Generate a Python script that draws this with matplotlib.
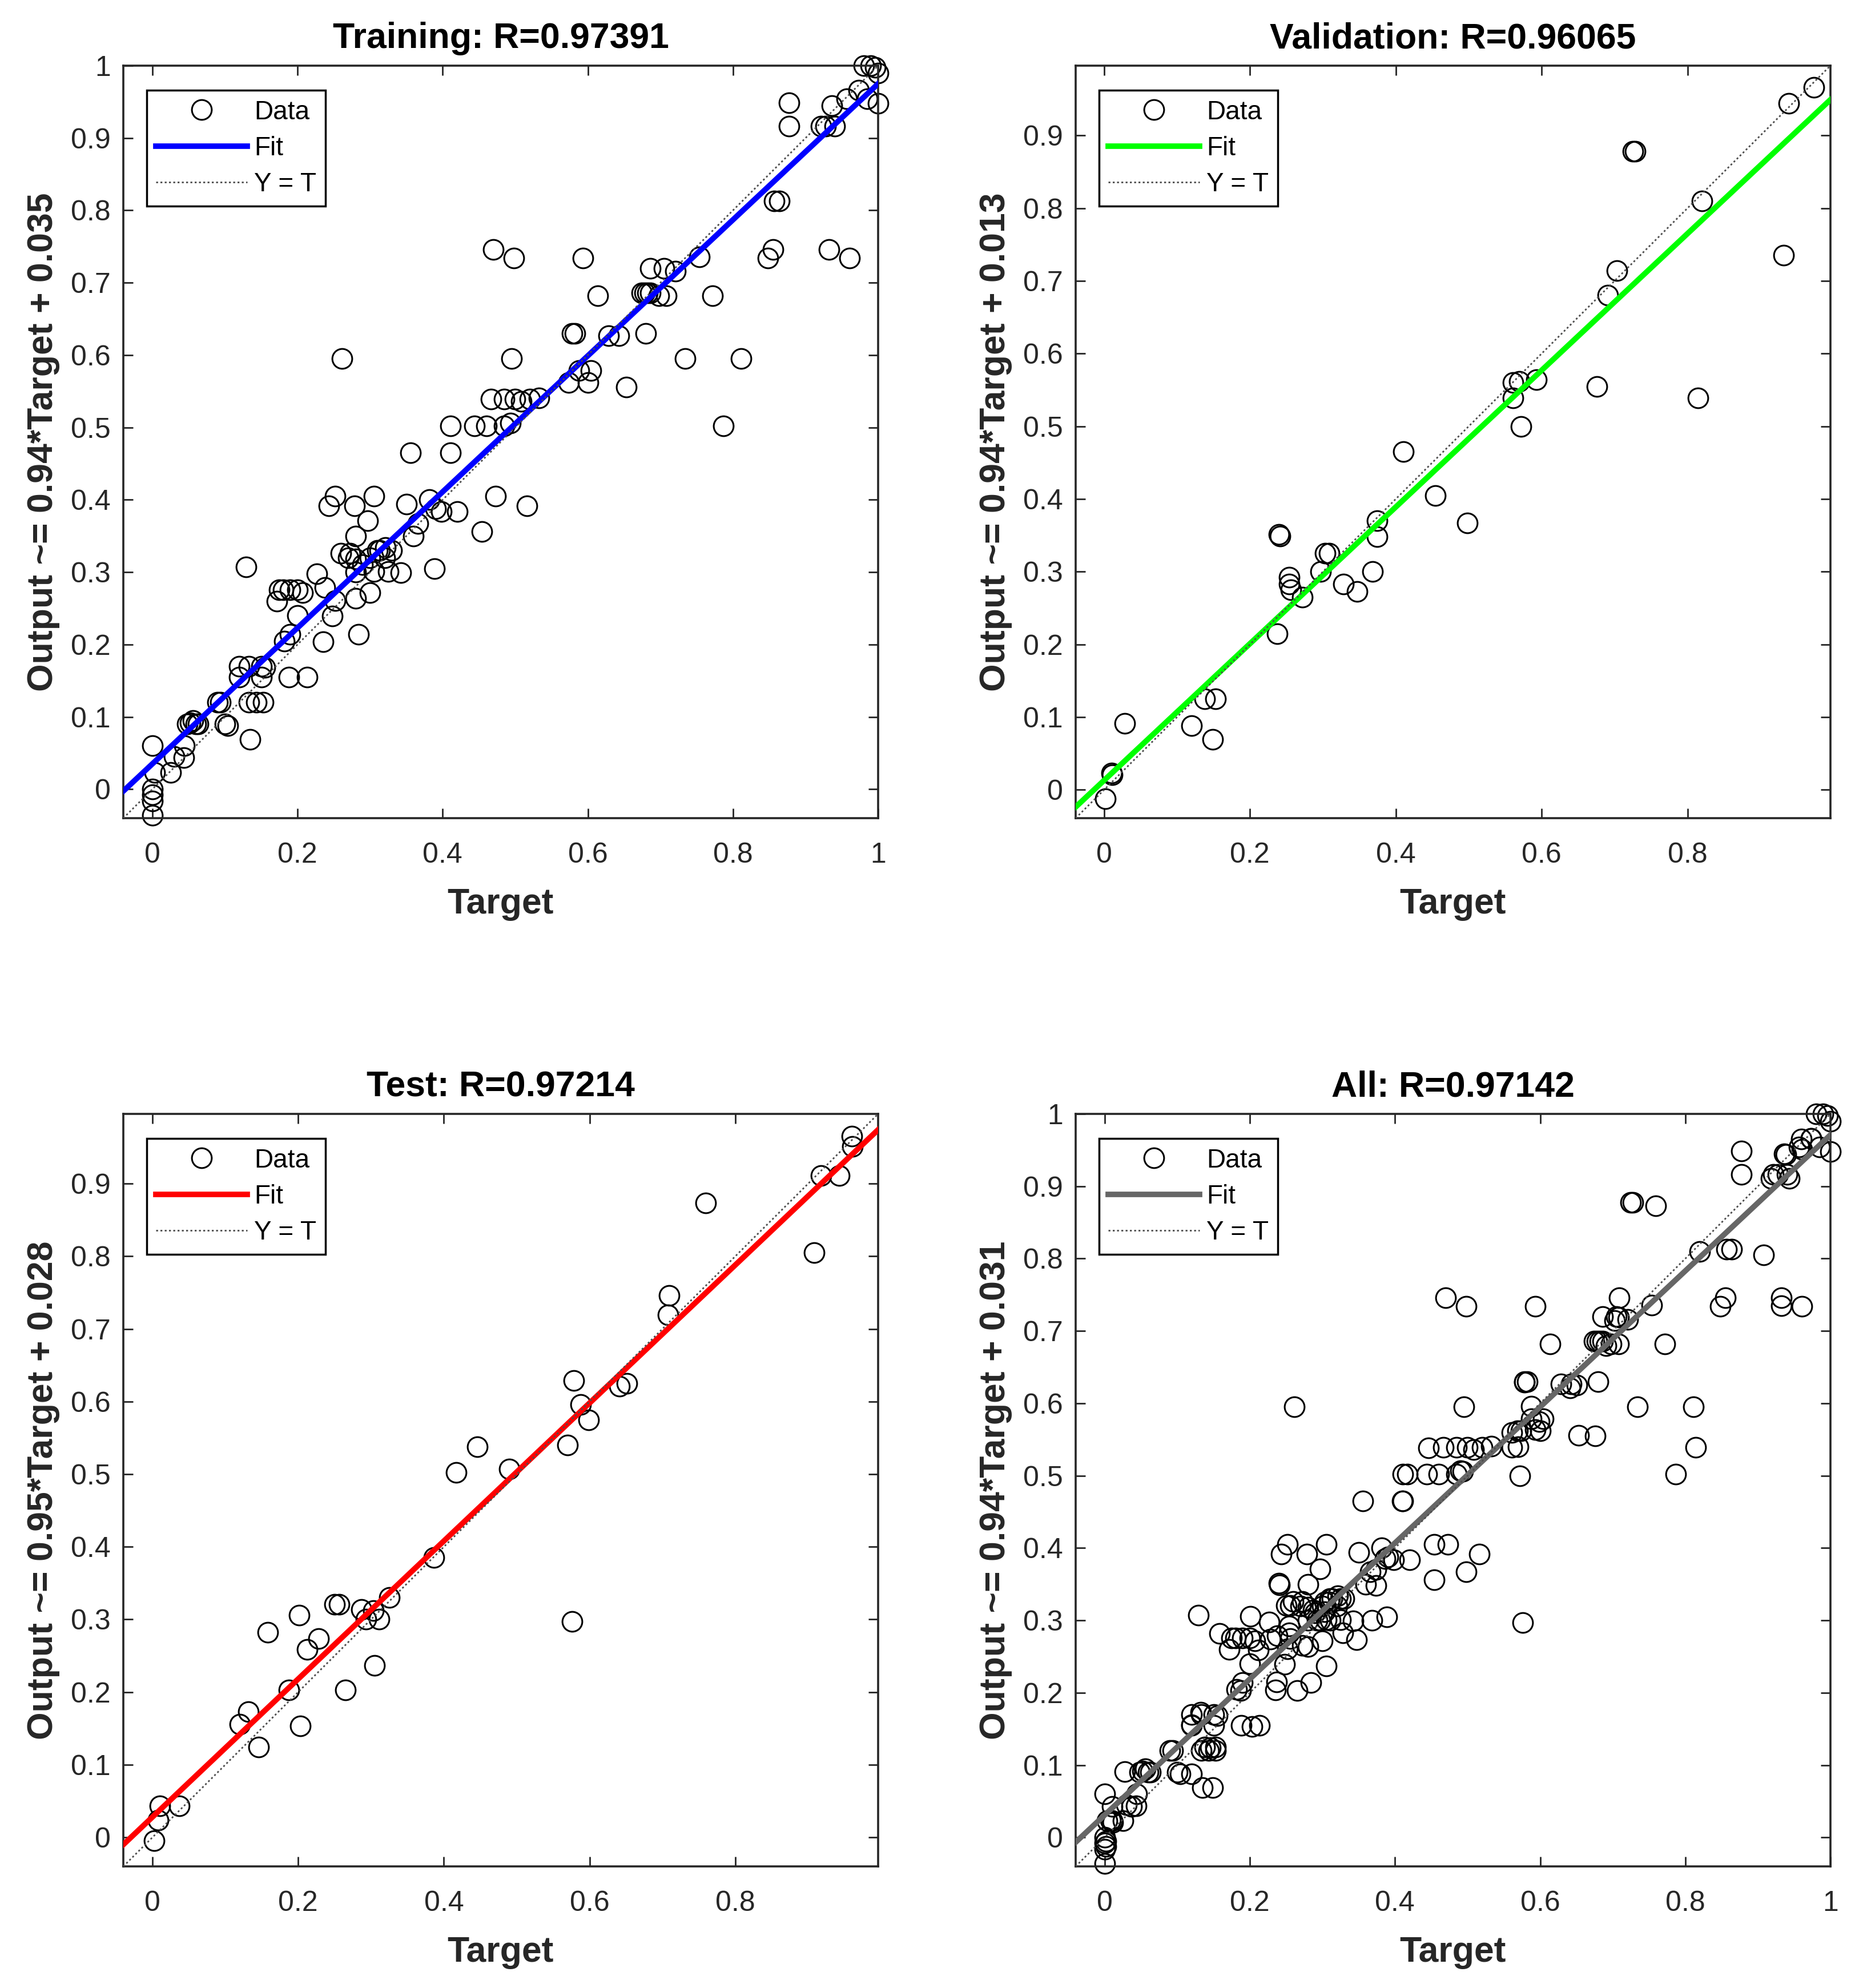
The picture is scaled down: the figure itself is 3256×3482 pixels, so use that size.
import matplotlib.pyplot as plt
import numpy as np

plt.rcParams['font.family'] = ['Liberation Sans', 'DejaVu Sans']

# ---- data (target, output) ----
train_t = [0.0, 0.003, 0.0, 0.0, 0.0, 0.0, 0.025, 0.03, 0.044, 0.043,
           0.048, 0.052, 0.056, 0.06, 0.063, 0.09, 0.094, 0.1, 0.104,
           0.12, 0.133, 0.15, 0.12, 0.133, 0.143, 0.153, 0.135, 0.129,
           0.15, 0.155, 0.188, 0.213, 0.175, 0.18, 0.19, 0.2, 0.207,
           0.172, 0.182, 0.19, 0.2, 0.227, 0.238, 0.235, 0.248, 0.252,
           0.243, 0.252, 0.261, 0.26, 0.272, 0.28, 0.279, 0.28, 0.284,
           0.28, 0.297, 0.305, 0.3, 0.305, 0.313, 0.321, 0.325, 0.342,
           0.35, 0.356, 0.36, 0.366, 0.382, 0.39, 0.398, 0.42, 0.389,
           0.411, 0.411, 0.444, 0.46, 0.485, 0.454, 0.473, 0.47, 0.498,
           0.467, 0.485, 0.5, 0.508, 0.52, 0.533, 0.495, 0.493, 0.516,
           0.574, 0.578, 0.582, 0.588, 0.604, 0.6, 0.593, 0.614, 0.629,
           0.643, 0.653, 0.68, 0.674, 0.678, 0.682, 0.686, 0.686, 0.705,
           0.721, 0.698, 0.708, 0.734, 0.754, 0.772, 0.787, 0.811, 0.848,
           0.855, 0.857, 0.864, 0.877, 0.877, 0.932, 0.961, 0.921, 0.928,
           0.94, 0.936, 0.957, 0.973, 0.985, 0.98, 0.99, 0.996, 1.0, 1.0,
           0.27, 0.29, 0.31, 0.32, 0.33, 0.28, 0.3]
train_o = [0.06, 0.023, 0.0, -0.008, -0.016, -0.036, 0.023, 0.045, 0.06,
           0.044, 0.09, 0.092, 0.095, 0.09, 0.09, 0.12, 0.12, 0.09, 0.088,
           0.17, 0.17, 0.17, 0.155, 0.12, 0.12, 0.12, 0.069, 0.307,
           0.155, 0.168, 0.155, 0.155, 0.276, 0.276, 0.276, 0.276, 0.272,
           0.26, 0.205, 0.214, 0.24, 0.298, 0.279, 0.204, 0.239, 0.261,
           0.392, 0.405, 0.595, 0.326, 0.326, 0.318, 0.392, 0.35, 0.214,
           0.264, 0.371, 0.405, 0.272, 0.301, 0.33, 0.334, 0.301, 0.299,
           0.394, 0.465, 0.35, 0.367, 0.4, 0.388, 0.384, 0.384, 0.305,
           0.502, 0.465, 0.502, 0.502, 0.502, 0.356, 0.405, 0.746, 0.734,
           0.539, 0.539, 0.539, 0.536, 0.539, 0.541, 0.595, 0.506, 0.392,
           0.562, 0.63, 0.63, 0.579, 0.579, 0.562, 0.734, 0.682, 0.627,
           0.627, 0.556, 0.63, 0.686, 0.686, 0.686, 0.686, 0.72, 0.72,
           0.716, 0.682, 0.682, 0.595, 0.736, 0.682, 0.502, 0.595, 0.734,
           0.746, 0.813, 0.813, 0.916, 0.949, 0.746, 0.734, 0.916, 0.916,
           0.916, 0.945, 0.954, 0.966, 0.954, 1.0, 1.0, 0.998, 0.99, 0.948,
           0.32, 0.31, 0.33, 0.32, 0.33, 0.30, 0.32]

val_t = [0.002, 0.01, 0.011, 0.028, 0.12, 0.138, 0.153, 0.149, 0.237,
         0.24, 0.241, 0.254, 0.254, 0.256, 0.272, 0.297, 0.303, 0.309,
         0.328, 0.347, 0.368, 0.374, 0.374, 0.41, 0.454, 0.498, 0.561,
         0.569, 0.561, 0.572, 0.593, 0.676, 0.691, 0.703, 0.725, 0.728,
         0.814, 0.82, 0.932, 0.939, 0.973]
val_o = [-0.012, 0.023, 0.021, 0.091, 0.088, 0.125, 0.125, 0.069, 0.215,
         0.351, 0.349, 0.292, 0.283, 0.275, 0.265, 0.3, 0.325, 0.325,
         0.283, 0.273, 0.3, 0.37, 0.348, 0.465, 0.405, 0.367, 0.56, 0.562,
         0.539, 0.5, 0.564, 0.555, 0.68, 0.714, 0.878, 0.878, 0.539, 0.81,
         0.735, 0.944, 0.966]

test_t = [0.002, 0.008, 0.01, 0.037, 0.12, 0.132, 0.146, 0.158, 0.187,
          0.203, 0.201, 0.212, 0.228, 0.25, 0.256, 0.265, 0.287, 0.293,
          0.303, 0.305, 0.311, 0.325, 0.386, 0.417, 0.446, 0.49, 0.57,
          0.578, 0.588, 0.599, 0.576, 0.641, 0.651, 0.709, 0.708, 0.759,
          0.908, 0.918, 0.943, 0.96, 0.961]
test_o = [-0.005, 0.024, 0.043, 0.043, 0.156, 0.173, 0.124, 0.282, 0.203,
          0.153, 0.306, 0.259, 0.274, 0.321, 0.321, 0.203, 0.314, 0.3,
          0.312, 0.237, 0.3, 0.33, 0.385, 0.502, 0.538, 0.507, 0.54, 0.629,
          0.596, 0.575, 0.297, 0.621, 0.625, 0.746, 0.719, 0.873, 0.805,
          0.911, 0.911, 0.965, 0.951]

titles = ['Training: R=0.97391', 'Validation: R=0.96065',
          'Test: R=0.97214', 'All: R=0.97142']
slopes = [0.94, 0.94, 0.95, 0.94]
intercepts = [0.035, 0.013, 0.028, 0.031]
fit_colors = ['#0000ff', '#00ff00', '#ff0000', '#666666']
limits = [(-0.04, 1.0), (-0.039, 0.996), (-0.04, 0.996), (-0.04, 1.0)]

all_t = train_t + val_t + test_t
all_o = train_o + val_o + test_o
targets = [train_t, val_t, test_t, all_t]
outputs = [train_o, val_o, test_o, all_o]

W, H = 3256, 3482
# axes boxes in pixels: left, top, width, height
boxes = [(216, 115, 1322, 1318), (1884, 115, 1322, 1318),
         (216, 1951, 1322, 1318), (1884, 1951, 1322, 1318)]

fig = plt.figure(figsize=(W / 100, H / 100), dpi=100, facecolor='white')
ink = '#262626'

for i in range(4):
    x0, y0, w, h = boxes[i]
    ax = fig.add_axes([x0 / W, 1 - (y0 + h) / H, w / W, h / H])
    lo, hi = limits[i]
    t = np.array(targets[i])
    o = np.array(outputs[i])
    xs = np.array([lo, hi])

    # markers at the edges are not cut off in the original
    ax.plot(t, o, 'o', mfc='none', mec='k', ms=25, mew=2.2, label='Data',
            zorder=2, clip_on=False)
    ax.plot(xs, slopes[i] * xs + intercepts[i], '-', color=fit_colors[i],
            lw=7, label='Fit', zorder=3)
    ax.plot(xs, xs, color='0.3', lw=2, linestyle=(0, (1.2, 1.5)),
            label='Y = T', zorder=4)

    ax.set_xlim(lo, hi)
    ax.set_ylim(lo, hi)
    xt = [v for v in np.round(np.arange(0, 1.01, 0.2), 1) if v <= hi]
    yt = [v for v in np.round(np.arange(0, 1.01, 0.1), 1) if v <= hi]
    ax.set_xticks(xt)
    ax.set_yticks(yt)
    ax.set_xticklabels([f'{v:g}' for v in xt])
    ax.set_yticklabels([f'{v:g}' for v in yt])
    ax.tick_params(direction='in', top=True, right=True, length=12,
                   width=2, colors=ink, labelsize=36)
    ax.tick_params(axis='x', pad=30)
    ax.tick_params(axis='y', pad=16)
    for s in ax.spines.values():
        s.set_linewidth(2.6)
        s.set_color(ink)

    ax.set_title(titles[i], fontsize=45, fontweight='bold', pad=22)
    ax.set_xlabel('Target', fontsize=45, fontweight='bold', labelpad=24,
                  color=ink)
    ax.set_ylabel(f'Output ~= {slopes[i]:.2f}*Target + {intercepts[i]:g}',
                  fontsize=45, fontweight='bold', labelpad=14, color=ink)

    leg = ax.legend(loc='upper left', bbox_to_anchor=(0.031, 0.967),
                    borderaxespad=0, fontsize=33, fancybox=False,
                    edgecolor='k', framealpha=1, handlelength=3.5,
                    handletextpad=0.25, labelspacing=0.42, borderpad=0.35)
    leg.get_frame().set_linewidth(2.5)

fig.savefig('out.png', dpi=100, facecolor='white')
